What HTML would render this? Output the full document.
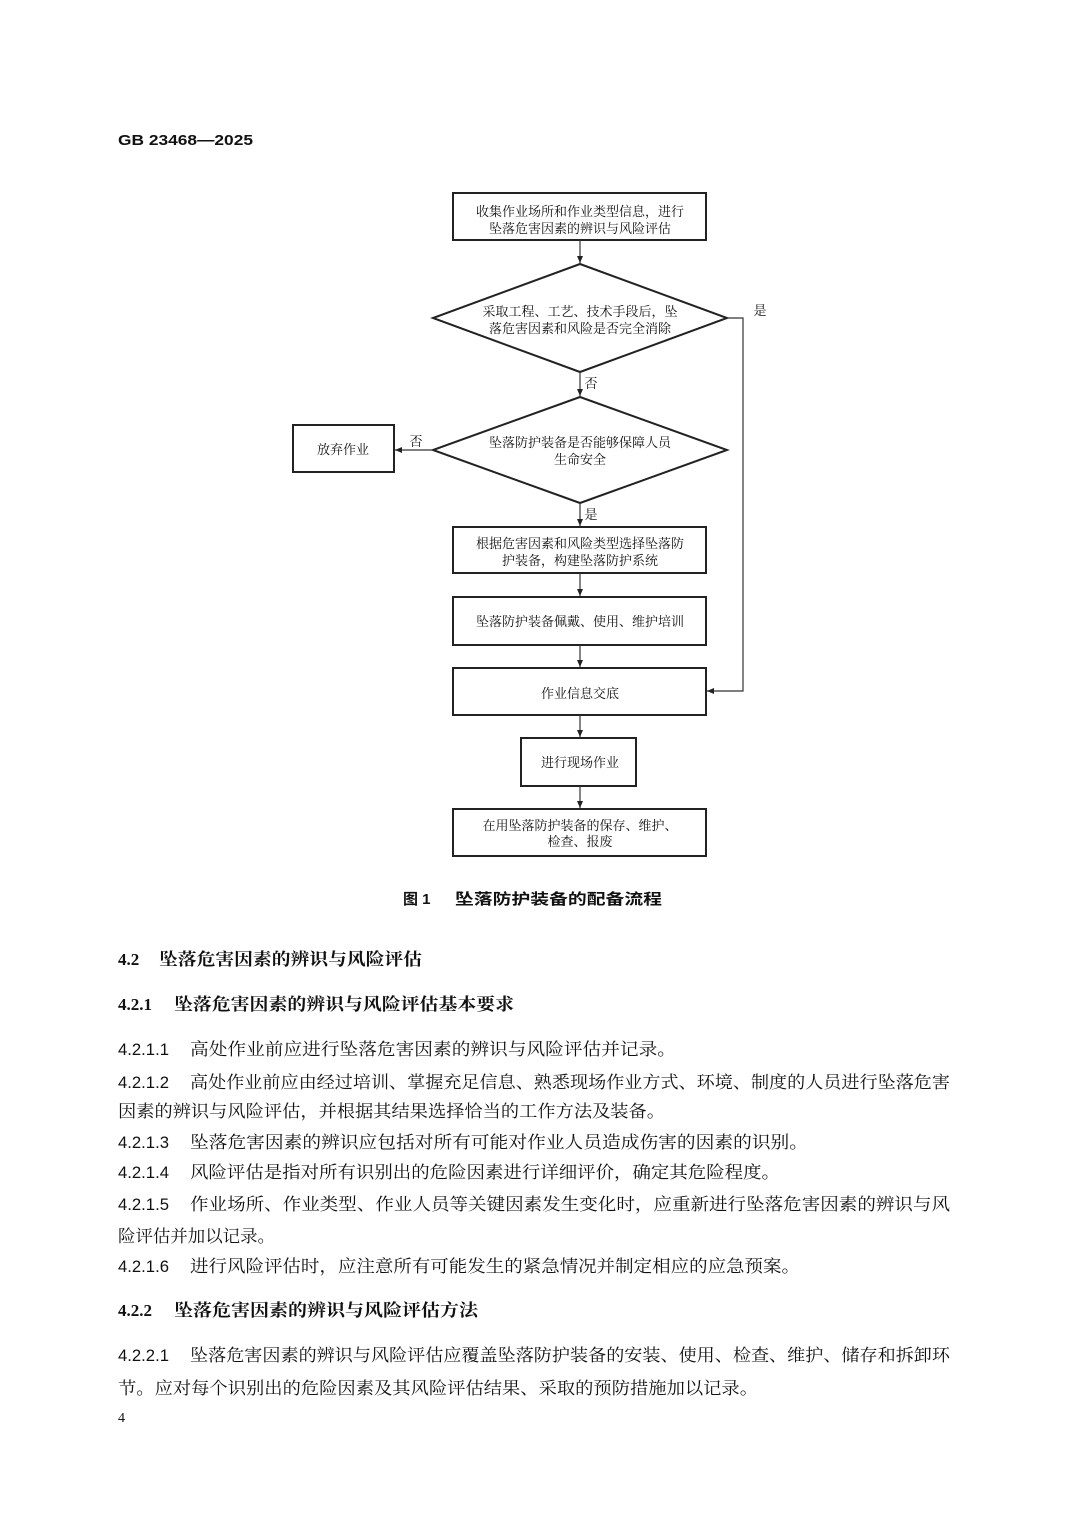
<!DOCTYPE html>
<html><head><meta charset="utf-8"><style>
html,body{margin:0;padding:0;background:#fff;}
svg{display:block;}
text{font-family:"Liberation Serif","Noto Serif CJK SC","Noto Sans CJK SC",serif;fill:#111;}
.s{font-family:"Liberation Sans","Noto Sans CJK SC",sans-serif;}
.b{font-weight:bold;}
</style></head><body>
<svg width="1080" height="1527" viewBox="0 0 1080 1527" xmlns="http://www.w3.org/2000/svg">
<defs><marker id="a" markerWidth="8" markerHeight="8" refX="7" refY="4" orient="auto" markerUnits="userSpaceOnUse"><path d="M0,1 L7,4 L0,7 z" fill="#222"/></marker></defs>
<text x="118" y="145" class="s b" font-size="15" textLength="135" lengthAdjust="spacingAndGlyphs">GB 23468—2025</text>

<g stroke="#222" stroke-width="2" fill="none">
<rect x="453" y="193" width="253" height="47"/>
<polygon points="580,264 727,318 580,372 433,318"/>
<polygon points="580,397 727,450 580,503 433,450"/>
<rect x="293" y="425" width="101" height="47"/>
<rect x="453" y="527" width="253" height="46"/>
<rect x="453" y="597" width="253" height="48"/>
<rect x="453" y="668" width="253" height="47"/>
<rect x="521" y="738" width="115" height="48"/>
<rect x="453" y="809" width="253" height="47"/>
</g>
<g stroke="#333" stroke-width="1.2" fill="none" marker-end="url(#a)">
<line x1="580" y1="240" x2="580" y2="263"/>
<line x1="580" y1="372" x2="580" y2="396"/>
<line x1="580" y1="503" x2="580" y2="526"/>
<line x1="580" y1="573" x2="580" y2="596"/>
<line x1="580" y1="645" x2="580" y2="667"/>
<line x1="580" y1="715" x2="580" y2="737"/>
<line x1="580" y1="786" x2="580" y2="808"/>
<line x1="433" y1="450" x2="395" y2="450"/>
<polyline points="727,318 743,318 743,691 707,691"/>
</g>
<g font-size="13" text-anchor="middle">
<text x="580" y="216">收集作业场所和作业类型信息，进行</text>
<text x="580" y="233">坠落危害因素的辨识与风险评估</text>
<text x="580" y="316">采取工程、工艺、技术手段后，坠</text>
<text x="580" y="333">落危害因素和风险是否完全消除</text>
<text x="580" y="447">坠落防护装备是否能够保障人员</text>
<text x="580" y="464">生命安全</text>
<text x="343" y="454">放弃作业</text>
<text x="580" y="548">根据危害因素和风险类型选择坠落防</text>
<text x="580" y="565">护装备，构建坠落防护系统</text>
<text x="580" y="626">坠落防护装备佩戴、使用、维护培训</text>
<text x="580" y="698">作业信息交底</text>
<text x="580" y="767">进行现场作业</text>
<text x="580" y="830">在用坠落防护装备的保存、维护、</text>
<text x="580" y="846">检查、报废</text>
<text x="760" y="315">是</text>
<text x="591" y="388">否</text>
<text x="416" y="446">否</text>
<text x="591" y="519">是</text>
</g>
<text x="403" y="904" class="s b" font-size="15">图 1</text>
<text x="455" y="904" class="s b" font-size="15" textLength="207" lengthAdjust="spacingAndGlyphs">坠落防护装备的配备流程</text>

<g font-size="17" class="s b">
<text x="118" y="965">4.2</text>
<text x="159" y="965" textLength="263" lengthAdjust="spacingAndGlyphs">坠落危害因素的辨识与风险评估</text>
<text x="118" y="1010">4.2.1</text>
<text x="174" y="1010" textLength="340" lengthAdjust="spacingAndGlyphs">坠落危害因素的辨识与风险评估基本要求</text>
<text x="118" y="1316">4.2.2</text>
<text x="174" y="1316" textLength="304" lengthAdjust="spacingAndGlyphs">坠落危害因素的辨识与风险评估方法</text>
</g>
<g font-size="17">
<text x="118" y="1055" class="s" textLength="51" lengthAdjust="spacingAndGlyphs">4.2.1.1</text>
<text x="190" y="1055" textLength="486" lengthAdjust="spacingAndGlyphs">高处作业前应进行坠落危害因素的辨识与风险评估并记录。</text>
<text x="118" y="1088" class="s" textLength="51" lengthAdjust="spacingAndGlyphs">4.2.1.2</text>
<text x="190" y="1088" textLength="760" lengthAdjust="spacingAndGlyphs">高处作业前应由经过培训、掌握充足信息、熟悉现场作业方式、环境、制度的人员进行坠落危害</text>
<text x="118" y="1117" textLength="547" lengthAdjust="spacingAndGlyphs">因素的辨识与风险评估，并根据其结果选择恰当的工作方法及装备。</text>
<text x="118" y="1148" class="s" textLength="51" lengthAdjust="spacingAndGlyphs">4.2.1.3</text>
<text x="190" y="1148" textLength="618" lengthAdjust="spacingAndGlyphs">坠落危害因素的辨识应包括对所有可能对作业人员造成伤害的因素的识别。</text>
<text x="118" y="1178" class="s" textLength="51" lengthAdjust="spacingAndGlyphs">4.2.1.4</text>
<text x="190" y="1178" textLength="590" lengthAdjust="spacingAndGlyphs">风险评估是指对所有识别出的危险因素进行详细评价，确定其危险程度。</text>
<text x="118" y="1210" class="s" textLength="51" lengthAdjust="spacingAndGlyphs">4.2.1.5</text>
<text x="190" y="1210" textLength="760" lengthAdjust="spacingAndGlyphs">作业场所、作业类型、作业人员等关键因素发生变化时，应重新进行坠落危害因素的辨识与风</text>
<text x="118" y="1242" textLength="157" lengthAdjust="spacingAndGlyphs">险评估并加以记录。</text>
<text x="118" y="1272" class="s" textLength="51" lengthAdjust="spacingAndGlyphs">4.2.1.6</text>
<text x="190" y="1272" textLength="610" lengthAdjust="spacingAndGlyphs">进行风险评估时，应注意所有可能发生的紧急情况并制定相应的应急预案。</text>
<text x="118" y="1361" class="s" textLength="51" lengthAdjust="spacingAndGlyphs">4.2.2.1</text>
<text x="190" y="1361" textLength="760" lengthAdjust="spacingAndGlyphs">坠落危害因素的辨识与风险评估应覆盖坠落防护装备的安装、使用、检查、维护、储存和拆卸环</text>
<text x="118" y="1394" textLength="640" lengthAdjust="spacingAndGlyphs">节。应对每个识别出的危险因素及其风险评估结果、采取的预防措施加以记录。</text>
</g>
<text x="118" y="1422" font-size="14" fill="#555">4</text>
</svg>
</body></html>
